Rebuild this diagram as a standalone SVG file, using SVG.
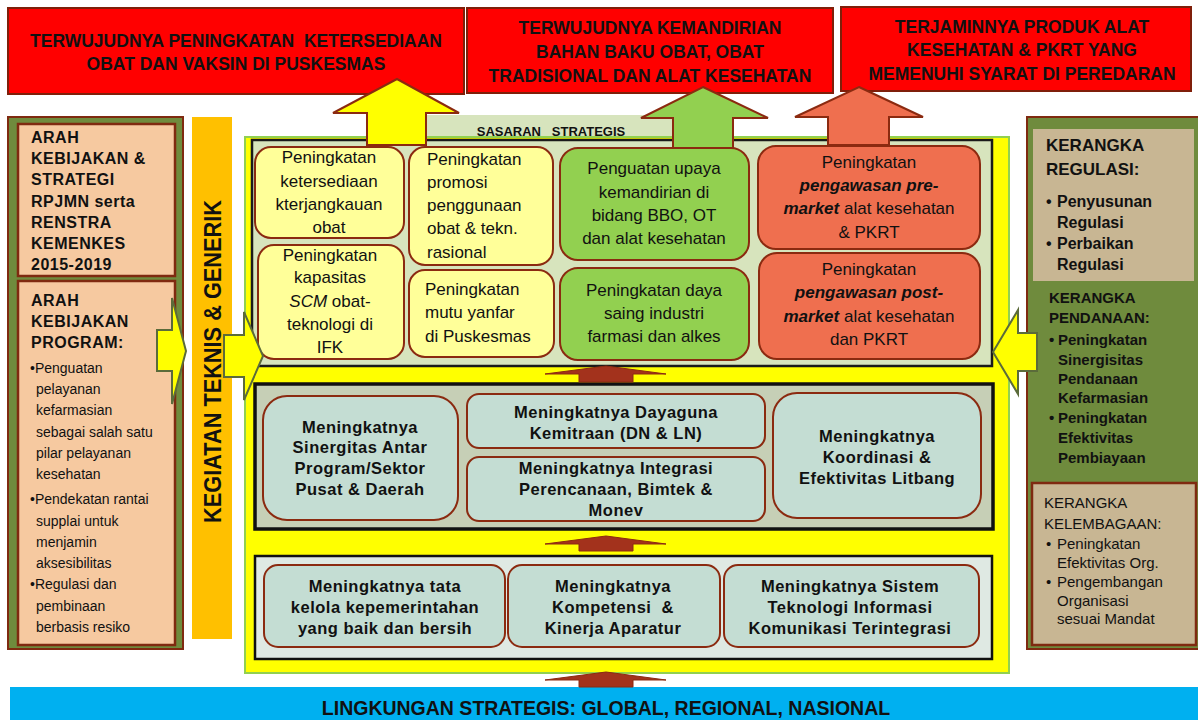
<svg xmlns="http://www.w3.org/2000/svg" width="1198" height="720" viewBox="0 0 1198 720">
<style>
text{font-family:"Liberation Sans",Arial,sans-serif;fill:#111}
.goal{fill:#ff0000;stroke:#7f1f0a;stroke-width:2}
.gt{font-size:17.5px;font-weight:bold;text-anchor:middle}
.yb{fill:#ffff99;stroke:#8b2a10;stroke-width:2}
.gb{fill:#92d050;stroke:#8b2a10;stroke-width:2}
.ob{fill:#ef6f4f;stroke:#8b2a10;stroke-width:2}
.tb{fill:#c4ddd3;stroke:#8b2a10;stroke-width:2}
.st{font-size:17px}
.c{text-anchor:middle}
.mt{font-size:16.5px;font-weight:bold;text-anchor:middle;letter-spacing:0.5px}
.lp{fill:#6f8b3d;stroke:#7f2a10;stroke-width:2}
.peach{fill:#f6c9a0;stroke:#7f2a10;stroke-width:2.5}
.tan{fill:#c8b693}
.lh{font-size:16px;font-weight:bold;letter-spacing:0.5px}
.lb{font-size:14px}
.ya{fill:#ffff00;stroke:#5b6b3a;stroke-width:2;stroke-linejoin:miter}
.ra{fill:#a3321c;stroke:#8b2a10;stroke-width:1}
</style>

<!-- Goal boxes -->
<g id="goal1"><rect class="goal" x="8" y="8" width="456" height="86"/>
<text class="gt" x="236" y="47" xml:space="preserve">TERWUJUDNYA PENINGKATAN  KETERSEDIAAN</text>
<text class="gt" x="236" y="70">OBAT DAN VAKSIN DI PUSKESMAS</text></g>
<g id="goal2"><rect class="goal" x="467" y="8" width="366" height="85"/>
<text class="gt" x="650" y="34">TERWUJUDNYA KEMANDIRIAN</text>
<text class="gt" x="650" y="58">BAHAN BAKU OBAT, OBAT</text>
<text class="gt" x="650" y="82">TRADISIONAL DAN ALAT KESEHATAN</text></g>
<g id="goal3"><rect class="goal" x="841" y="7" width="350" height="84"/>
<text class="gt" x="1022" y="33">TERJAMINNYA PRODUK ALAT</text>
<text class="gt" x="1022" y="56">KESEHATAN &amp; PKRT YANG</text>
<text class="gt" x="1022" y="80">MEMENUHI SYARAT DI PEREDARAN</text></g>

<!-- Left panel -->
<g id="left-panel">
<rect class="lp" x="8" y="117" width="175" height="532"/>
<rect class="peach" x="18" y="124" width="157" height="152"/>
<text class="lh" x="31" y="143">ARAH</text>
<text class="lh" x="31" y="164">KEBIJAKAN &amp;</text>
<text class="lh" x="31" y="185">STRATEGI</text>
<text class="lh" x="31" y="207">RPJMN serta</text>
<text class="lh" x="31" y="228">RENSTRA</text>
<text class="lh" x="31" y="249">KEMENKES</text>
<text class="lh" x="31" y="270">2015-2019</text>
<rect class="peach" x="18" y="281" width="157" height="364"/>
<text class="lh" x="31" y="306">ARAH</text>
<text class="lh" x="31" y="327">KEBIJAKAN</text>
<text class="lh" x="31" y="348">PROGRAM:</text>
<text class="lb" x="30" y="373">•Penguatan</text>
<text class="lb" x="36" y="394">pelayanan</text>
<text class="lb" x="36" y="415">kefarmasian</text>
<text class="lb" x="36" y="437">sebagai salah satu</text>
<text class="lb" x="36" y="458">pilar pelayanan</text>
<text class="lb" x="36" y="479">kesehatan</text>
<text class="lb" x="30" y="504">•Pendekatan rantai</text>
<text class="lb" x="36" y="526">supplai untuk</text>
<text class="lb" x="36" y="547">menjamin</text>
<text class="lb" x="36" y="568">aksesibilitas</text>
<text class="lb" x="30" y="589">•Regulasi dan</text>
<text class="lb" x="36" y="611">pembinaan</text>
<text class="lb" x="36" y="632">berbasis resiko</text>
</g>

<!-- Orange vertical bar -->
<g id="kegiatan">
<rect x="192" y="117" width="40" height="522" fill="#ffc000"/>
<text transform="translate(221,361.5) rotate(-90)" text-anchor="middle" font-size="23" font-weight="bold" textLength="323" lengthAdjust="spacingAndGlyphs">KEGIATAN TEKNIS &amp; GENERIK</text>
</g>

<!-- Right panel -->
<g id="right-panel">
<rect class="lp" x="1027" y="117" width="175" height="532"/>
<rect class="tan" x="1033" y="129" width="161" height="152"/>
<text x="1046" y="151" font-size="17" font-weight="bold">KERANGKA</text>
<text x="1046" y="175" font-size="17" font-weight="bold">REGULASI:</text>
<text x="1046" y="207" font-size="16" font-weight="bold">•</text><text x="1057" y="207" font-size="16" font-weight="bold">Penyusunan</text>
<text x="1057" y="228" font-size="16" font-weight="bold">Regulasi</text>
<text x="1046" y="249" font-size="16" font-weight="bold">•</text><text x="1057" y="249" font-size="16" font-weight="bold">Perbaikan</text>
<text x="1057" y="270" font-size="16" font-weight="bold">Regulasi</text>
<text x="1049" y="303" font-size="15" font-weight="bold">KERANGKA</text>
<text x="1049" y="323" font-size="15" font-weight="bold">PENDANAAN:</text>
<text x="1049" y="345" font-size="15" font-weight="bold">•</text><text x="1058" y="345" font-size="15" font-weight="bold">Peningkatan</text>
<text x="1058" y="365" font-size="15" font-weight="bold">Sinergisitas</text>
<text x="1058" y="384" font-size="15" font-weight="bold">Pendanaan</text>
<text x="1058" y="403" font-size="15" font-weight="bold">Kefarmasian</text>
<text x="1049" y="423" font-size="15" font-weight="bold">•</text><text x="1058" y="423" font-size="15" font-weight="bold">Peningkatan</text>
<text x="1058" y="443" font-size="15" font-weight="bold">Efektivitas</text>
<text x="1058" y="463" font-size="15" font-weight="bold">Pembiayaan</text>
<rect class="tan" x="1032" y="483" width="164" height="162" stroke="#7f2a10" stroke-width="2.5"/>
<text x="1044" y="508" font-size="15">KERANGKA</text>
<text x="1044" y="529" font-size="15">KELEMBAGAAN:</text>
<text x="1046" y="549" font-size="15">•</text><text x="1057" y="549" font-size="15">Peningkatan</text>
<text x="1057" y="568" font-size="15">Efektivitas Org.</text>
<text x="1046" y="587" font-size="15">•</text><text x="1057" y="587" font-size="15">Pengembangan</text>
<text x="1057" y="606" font-size="15">Organisasi</text>
<text x="1057" y="624" font-size="15">sesuai Mandat</text>
</g>

<!-- Main yellow area -->
<g id="main-area">
<rect x="427" y="115" width="245" height="26" fill="#d7e4bd"/>
<text x="551" y="136" font-size="13" font-weight="bold" text-anchor="middle" xml:space="preserve">SASARAN   STRATEGIS</text>
<rect x="245" y="137" width="764" height="536" fill="#ffff00" stroke="#92d050" stroke-width="2"/>
</g>

<!-- Sasaran strategis section -->
<g id="sasaran-box"><rect x="252" y="140" width="740" height="226" fill="#d7e4bd" stroke="#1a1a1a" stroke-width="2.5"/></g>

<!-- Big up arrows -->
<g id="goal-arrows" stroke="#8b2a10" stroke-width="2">
<path d="M397,79 L459,113 L426,113 L426,145 L367,145 L367,113 L333,113 Z" fill="#ffff00"/>
<path d="M703,87 L768,118 L733,118 L733,149 L673,149 L673,118 L641,118 Z" fill="#92d050"/>
<path d="M859,87 L923,117 L889,117 L889,145 L828,145 L828,117 L795,117 Z" fill="#ef6f4f"/>
</g>

<g id="s1"><rect class="yb" x="255" y="147" width="149" height="91" rx="16"/>
<text class="st c" x="329"><tspan x="329" y="163">Peningkatan</tspan><tspan x="329" y="187">ketersediaan</tspan><tspan x="329" y="210">kterjangkauan</tspan><tspan x="329" y="233">obat</tspan></text></g>
<g id="s2"><rect class="yb" x="409" y="147" width="144" height="118" rx="16"/>
<text class="st"><tspan x="427" y="165">Peningkatan</tspan><tspan x="427" y="188">promosi</tspan><tspan x="427" y="211">penggunaan</tspan><tspan x="427" y="234">obat &amp; tekn.</tspan><tspan x="427" y="258">rasional</tspan></text></g>
<g id="s3"><rect class="yb" x="258" y="245" width="146" height="114" rx="16"/>
<text class="st c"><tspan x="330" y="261">Peningkatan</tspan><tspan x="330" y="283">kapasitas</tspan><tspan x="330" y="307"><tspan font-style="italic">SCM</tspan> obat-</tspan><tspan x="330" y="330">teknologi di</tspan><tspan x="330" y="353">IFK</tspan></text></g>
<g id="s4"><rect class="yb" x="409" y="270" width="145" height="87" rx="16"/>
<text class="st"><tspan x="425" y="295">Peningkatan</tspan><tspan x="425" y="318">mutu yanfar</tspan><tspan x="425" y="342">di Puskesmas</tspan></text></g>
<g id="s5"><rect class="gb" x="560" y="148" width="189" height="112" rx="18"/>
<text class="st c"><tspan x="654" y="174">Penguatan upaya</tspan><tspan x="654" y="198">kemandirian di</tspan><tspan x="654" y="221">bidang BBO, OT</tspan><tspan x="654" y="244">dan alat kesehatan</tspan></text></g>
<g id="s6"><rect class="gb" x="560" y="268" width="189" height="92" rx="18"/>
<text class="st c"><tspan x="654" y="296">Peningkatan daya</tspan><tspan x="654" y="319">saing industri</tspan><tspan x="654" y="342">farmasi dan alkes</tspan></text></g>
<g id="s7"><rect class="ob" x="758" y="146" width="222" height="103" rx="18"/>
<text class="st c"><tspan x="869" y="168">Peningkatan</tspan><tspan x="869" y="191" font-weight="bold" font-style="italic">pengawasan pre-</tspan><tspan x="869" y="214"><tspan font-weight="bold" font-style="italic">market</tspan> alat kesehatan</tspan><tspan x="869" y="238">&amp; PKRT</tspan></text></g>
<g id="s8"><rect class="ob" x="759" y="253" width="221" height="106" rx="18"/>
<text class="st c"><tspan x="869" y="275">Peningkatan</tspan><tspan x="869" y="298" font-weight="bold" font-style="italic">pengawasan post-</tspan><tspan x="869" y="322"><tspan font-weight="bold" font-style="italic">market</tspan> alat kesehatan</tspan><tspan x="869" y="345">dan PKRT</tspan></text></g>

<!-- Middle section -->
<g id="mid-box"><rect x="255" y="384" width="738" height="145" fill="#c6cfb6" stroke="#111" stroke-width="3.5"/></g>
<g id="m1"><rect class="tb" x="263" y="396" width="195" height="124" rx="24"/>
<text class="mt"><tspan x="360" y="433">Meningkatnya</tspan><tspan x="360" y="453">Sinergitas Antar</tspan><tspan x="360" y="474">Program/Sektor</tspan><tspan x="360" y="495">Pusat &amp; Daerah</tspan></text></g>
<g id="m2"><rect class="tb" x="467" y="394" width="298" height="54" rx="12"/>
<text class="mt"><tspan x="616" y="418">Meningkatnya Dayaguna</tspan><tspan x="616" y="439">Kemitraan (DN &amp; LN)</tspan></text></g>
<g id="m3"><rect class="tb" x="467" y="457" width="298" height="64" rx="12"/>
<text class="mt"><tspan x="616" y="474">Meningkatnya Integrasi</tspan><tspan x="616" y="495">Perencanaan, Bimtek &amp;</tspan><tspan x="616" y="516">Monev</tspan></text></g>
<g id="m4"><rect class="tb" x="773" y="393" width="208" height="125" rx="24"/>
<text class="mt"><tspan x="877" y="442">Meningkatnya</tspan><tspan x="877" y="463">Koordinasi &amp;</tspan><tspan x="877" y="484">Efektivitas Litbang</tspan></text></g>

<!-- Bottom section -->
<g id="bottom-box"><rect x="255" y="556" width="737" height="103" fill="#dfe9e3" stroke="#111" stroke-width="2.5"/></g>
<g id="b1"><rect class="tb" x="264" y="565" width="241" height="82" rx="14"/>
<text class="mt"><tspan x="385" y="592">Meningkatnya tata</tspan><tspan x="385" y="613">kelola kepemerintahan</tspan><tspan x="385" y="634">yang baik dan bersih</tspan></text></g>
<g id="b2"><rect class="tb" x="508" y="565" width="212" height="82" rx="14"/>
<text class="mt" xml:space="preserve"><tspan x="613" y="592">Meningkatnya</tspan><tspan x="613" y="613">Kompetensi  &amp;</tspan><tspan x="613" y="634">Kinerja Aparatur</tspan></text></g>
<g id="b3"><rect class="tb" x="724" y="565" width="255" height="82" rx="14"/>
<text class="mt"><tspan x="850" y="592">Meningkatnya Sistem</tspan><tspan x="850" y="613">Teknologi Informasi</tspan><tspan x="850" y="634">Komunikasi Terintegrasi</tspan></text></g>

<!-- Environment bar -->
<g id="lingkungan"><rect x="10" y="687" width="1188" height="33" fill="#00b0f0"/>
<text x="606" y="715" font-size="19.5" font-weight="bold" text-anchor="middle">LINGKUNGAN STRATEGIS: GLOBAL, REGIONAL, NASIONAL</text></g>

<!-- Connectors -->
<g id="connectors">
<path class="ra" d="M606,366 L666,374 L633,374 L633,382 L579,382 L579,374 L545,374 Z"/>
<path class="ra" d="M606,536 L666,544 L633,544 L633,551 L579,551 L579,544 L545,544 Z"/>
<path class="ra" d="M606,672 L666,680 L633,680 L633,687 L579,687 L579,680 L545,680 Z"/>
<path class="ya" d="M157,330 L172,330 L172,298 L186,351 L172,404 L172,371 L157,371 Z"/>
<path class="ya" d="M224,335 L244,335 L244,312 L263,356 L244,400 L244,377 L224,377 Z"/>
<path class="ya" d="M993,352 L1018,310 L1018,333 L1037,333 L1037,371 L1018,371 L1018,394 Z"/>
</g>
</svg>
